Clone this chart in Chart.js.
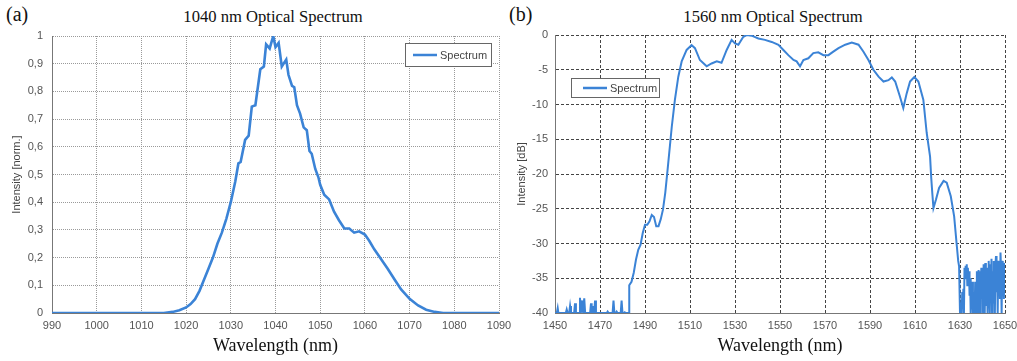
<!DOCTYPE html>
<html lang="en">
<head>
    <meta charset="UTF-8">
    <title>Optical Spectra</title>
    <style>
        body {
            margin: 0;
            background: #fff;
            width: 1017px;
            height: 361px;
            position: relative;
            overflow: hidden;
        }
        .chartBox { position: absolute; top: 0; height: 361px; }
        .tag, .ttl {
            position: absolute;
            font-family: 'Liberation Serif', 'Times New Roman', serif;
            color: #111;
            white-space: nowrap;
        }
        .tag { font-size: 20px; top: 3px; }
        .ttl { font-size: 16.6px; top: 7px; transform: translateX(-50%); }
    </style>
</head>
<body>
    <div class="tag" style="left:6px">(a)</div>
    <div class="ttl" style="left:273px">1040 nm Optical Spectrum</div>
    <div class="tag" style="left:509px">(b)</div>
    <div class="ttl" style="left:773px">1560 nm Optical Spectrum</div>

    <div class="chartBox" style="left:0;width:515px"><canvas id="chartA" width="515" height="361"></canvas></div>
    <div class="chartBox" style="left:505px;width:512px"><canvas id="chartB" width="512" height="361"></canvas></div>

    <script src="https://cdn.jsdelivr.net/npm/chart.js"></script>
    <script>
        // 1040 nm spectrum (normalised intensity)
        const wavelengthA = [990, 1000, 1010, 1015, 1017, 1018.5, 1020, 1021, 1022, 1023, 1024, 1025, 1026, 1027, 1028, 1029, 1030, 1031,
            1031.7, 1032.2, 1033.2, 1034, 1034.7, 1035.5, 1036.6, 1037.4, 1037.9, 1038.7, 1039.5, 1040, 1040.7, 1041.4, 1042.4,
            1042.9, 1043.7, 1044.2, 1044.8, 1045.5, 1046.3, 1047, 1047.6, 1048.1, 1048.9, 1049.6, 1050, 1050.9, 1052, 1053.1,
            1054.2, 1055.4, 1056.5, 1057.6, 1058.7, 1060, 1061, 1062.1, 1063.6, 1065.1, 1066.6, 1068.1, 1070, 1071.9, 1073.7,
            1075.6, 1077.5, 1080, 1090];
        const intensityA = [0, 0, 0, 0, 0.004, 0.01, 0.02, 0.032, 0.05, 0.08, 0.12, 0.16, 0.2, 0.25, 0.29, 0.34, 0.40, 0.475,
            0.54, 0.545, 0.625, 0.64, 0.745, 0.75, 0.88, 0.89, 0.97, 0.955, 1.0, 0.96, 0.975, 0.89, 0.915,
            0.86, 0.82, 0.815, 0.75, 0.72, 0.67, 0.66, 0.585, 0.575, 0.52, 0.49, 0.463, 0.427, 0.41, 0.366,
            0.335, 0.305, 0.305, 0.29, 0.295, 0.283, 0.26, 0.23, 0.195, 0.16, 0.122, 0.085, 0.051, 0.027, 0.012,
            0.004, 0, 0, 0];

        // 1560 nm spectrum (dB)
        const wavelengthB = [1450, 1450.8, 1451.2, 1451.5, 1454.8, 1455.2, 1455.6, 1456.3, 1456.7, 1457.1, 1458.5, 1458.9, 1459.3,
            1460.7, 1461.1, 1461.5, 1461.8, 1462.1, 1462.5, 1462.7, 1463, 1463.4, 1465.6, 1466, 1466.3, 1466.5, 1466.8, 1467.4,
            1467.8, 1468.2, 1473, 1473.4, 1473.8, 1475.6, 1476, 1476.4, 1477, 1477.4, 1477.8, 1479.2, 1479.6, 1480, 1480.6, 1481,
            1481.4, 1482.9, 1483, 1484, 1485, 1486, 1487, 1488, 1489, 1490, 1491, 1492, 1493, 1494, 1495, 1496, 1497, 1498,
            1499, 1500, 1501.9, 1503.3, 1504.8, 1506.3, 1508.5, 1510.7, 1512.2, 1514.4, 1517.4, 1519.6, 1521.9, 1524, 1526.3,
            1528.5, 1530, 1531.5, 1533.7, 1535.2, 1537.4, 1540.4, 1543.3, 1546.3, 1549.3, 1551.5, 1553.7, 1556, 1557.4, 1558.9,
            1560.4, 1562.6, 1564.8, 1567, 1569.3, 1571.5, 1573.7, 1576, 1579, 1581.9, 1584.9, 1587.1, 1589.3, 1591.5, 1593.8,
            1596, 1598.2, 1599.7, 1601.2, 1603.3, 1604.8, 1606.3, 1607.8, 1609.7, 1611.5, 1613.7, 1615.2, 1616.7, 1617.2,
            1617.7, 1618.2, 1619.3, 1620.7, 1622.7, 1624.1, 1625.9, 1627.4, 1628.6, 1629.2, 1629.6, 1630,
            1630.25, 1630.5, 1630.75, 1631, 1631.25, 1631.5, 1631.75, 1632, 1632.25, 1632.5, 1632.75, 1633, 1633.25, 1633.5,
            1633.75, 1634, 1634.25, 1634.5, 1634.75, 1635, 1635.25, 1635.5, 1635.75, 1636, 1636.25, 1636.5, 1636.75, 1637,
            1637.25, 1637.5, 1637.75, 1638, 1638.25, 1638.5, 1638.75, 1639, 1639.25, 1639.5, 1639.75, 1640, 1640.25, 1640.5,
            1640.75, 1641, 1641.25, 1641.5, 1641.75, 1642, 1642.25, 1642.5, 1642.75, 1643, 1643.25, 1643.5, 1643.75, 1644,
            1644.25, 1644.5, 1644.75, 1645, 1645.25, 1645.5, 1645.75, 1646, 1646.25, 1646.5, 1646.75, 1647, 1647.25, 1647.5,
            1647.75, 1648, 1648.25, 1648.5, 1648.75, 1649, 1649.25, 1649.5, 1649.75, 1650];
        const levelB = [-40, -40, -39.3, -40, -40, -39.5, -40, -40, -39, -40, -40, -38.6, -40,
            -40, -37.8, -40, -39, -38.2, -40, -39, -37.9, -40, -40, -38.6, -40, -39, -40, -40,
            -38.2, -40, -40, -39.8, -40, -40, -38.2, -40, -40, -39.8, -40, -40, -38.2, -40, -40, -39.9,
            -40, -40, -36, -35.5, -34.2, -32.3, -30.9, -30.2, -28.5, -27.3, -27.3, -26.8, -25.9, -26.2, -27.5, -27.5, -26.5, -25.1,
            -22.7, -19.5, -13.2, -9.3, -6, -3.8, -2.15, -1.45, -1.9, -3.6, -4.5, -4.1, -3.8, -4.0, -2.15,
            -0.7, -1.2, -1.4, -0.25, 0, -0.1, -0.5, -0.7, -1.0, -1.4, -2.15, -2.9, -3.6, -3.8, -4.5,
            -3.6, -3.35, -2.6, -2.5, -2.9, -2.9, -2.4, -1.9, -1.4, -1.1, -1.4, -2.4, -3.6, -5.0, -6.0,
            -6.7, -6.5, -6.1, -6.7, -8.85, -10.5, -8.4, -6.7, -6.05, -6.7, -9.3, -14.1, -17.5, -20.5,
            -22.8, -24.9, -23.7, -22, -21, -21.25, -23.2, -26.1, -30.4, -32.5, -33.3, -40,
            -40, -38.5, -40, -37, -39, -36.5, -40, -33.5, -35, -33.2, -34.5, -33, -36, -33.5,
            -35.5, -34, -37.5, -35, -40, -36.5, -39.5, -35.5, -40, -37, -38.5, -40, -35.5, -37,
            -40, -34, -38, -40, -33.8, -36.5, -34, -40, -35, -33.5, -38, -34, -40, -33,
            -36.5, -40, -32.8, -35, -39, -33.5, -40, -34.5, -32.5, -37, -40, -33, -36, -32.2,
            -40, -34, -38.5, -32.5, -35, -40, -33, -31.8, -37, -33.5, -40, -32.5, -35.5, -33,
            -38, -31.3, -34, -40, -32.5, -35, -33, -38, -32.8, -33.5];

        const xTicksA = [990, 1000, 1010, 1020, 1030, 1040, 1050, 1060, 1070, 1080, 1090];
        const yTicksA = [0, 0.1, 0.2, 0.3, 0.4, 0.5, 0.6, 0.7, 0.8, 0.9, 1];
        const xTicksB = [1450, 1470, 1490, 1510, 1530, 1550, 1570, 1590, 1610, 1630, 1650];
        const yTicksB = [-40, -35, -30, -25, -20, -15, -10, -5, 0];

        const lineBlue = '#3b83d6';
        const sans = "'Liberation Sans', Arial, sans-serif";
        const serif = "'Liberation Serif', 'Times New Roman', serif";

        // small boxed legend drawn inside the plot
        const boxLegend = {
            id: 'boxLegend',
            afterDraw(chart, args, o) {
                const ctx = chart.ctx;
                const ds = chart.data.datasets[0];
                ctx.save();
                ctx.fillStyle = '#fff';
                ctx.fillRect(o.x, o.y, o.w, o.h);
                ctx.strokeStyle = '#666';
                ctx.lineWidth = 1;
                ctx.strokeRect(o.x + 0.5, o.y + 0.5, o.w, o.h);
                ctx.strokeStyle = ds.borderColor;
                ctx.lineWidth = 2.5;
                ctx.beginPath();
                ctx.moveTo(o.x + o.lx, o.y + o.h / 2 + 0.5);
                ctx.lineTo(o.x + o.lx + o.lw, o.y + o.h / 2 + 0.5);
                ctx.stroke();
                ctx.fillStyle = '#444';
                ctx.font = '11px ' + sans;
                ctx.textBaseline = 'middle';
                ctx.fillText(ds.label, o.x + o.lx + o.lw + 3, o.y + o.h / 2 + 1);
                ctx.restore();
            }
        };

        function toPoints(xs, ys) {
            return xs.map((x, i) => ({ x: x, y: ys[i] }));
        }

        function makeChart(id, cfg) {
            return new Chart(document.getElementById(id), {
                type: 'line',
                data: {
                    datasets: [{
                        label: 'Spectrum',
                        data: toPoints(cfg.xs, cfg.ys),
                        borderColor: lineBlue,
                        borderWidth: cfg.lineWidth,
                        pointRadius: 0,
                        tension: 0,
                        fill: false
                    }]
                },
                options: {
                    responsive: false,
                    animation: false,
                    layout: { autoPadding: false, padding: cfg.padding },
                    plugins: {
                        legend: { display: false },
                        tooltip: { enabled: false },
                        boxLegend: cfg.legend
                    },
                    scales: {
                        x: {
                            type: 'linear',
                            min: cfg.xMin, max: cfg.xMax,
                            afterBuildTicks: s => { s.ticks = cfg.xTicks.map(v => ({ value: v })); },
                            afterFit: s => { s.height = 48; s.paddingLeft = 0; s.paddingRight = 0; },
                            border: { display: true, color: '#777', width: 1, dash: cfg.dash },
                            grid: { color: cfg.gridColor, drawTicks: false },
                            ticks: { color: '#555', font: { family: sans, size: 11 }, padding: 6, maxRotation: 0, autoSkip: false, callback: v => String(v) },
                            title: { display: true, text: 'Wavelength (nm)', color: '#111', font: { family: serif, size: 18 }, padding: { top: 4 } }
                        },
                        y: {
                            min: cfg.yMin, max: cfg.yMax,
                            afterBuildTicks: s => { s.ticks = cfg.yTicks.map(v => ({ value: v })); },
                            afterFit: s => { s.width = cfg.yWidth; s.paddingTop = 0; s.paddingBottom = 0; },
                            border: { display: true, color: '#777', width: 1, dash: cfg.dash },
                            grid: { color: cfg.gridColor, drawTicks: false },
                            ticks: { color: '#555', font: { family: sans, size: 11 }, padding: cfg.yPad, autoSkip: false, callback: cfg.fmt },
                            title: { display: true, text: cfg.yTitle, color: '#444', font: { family: sans, size: 11 }, padding: { top: 10, bottom: 0 } }
                        }
                    }
                },
                plugins: [boxLegend]
            });
        }

        makeChart('chartA', {
            xs: wavelengthA, ys: intensityA, lineWidth: 2.6,
            xMin: 990, xMax: 1090, xTicks: xTicksA,
            yMin: 0, yMax: 1, yTicks: yTicksA,
            fmt: v => String(Math.round(v * 10) / 10).replace('.', ','),
            yTitle: 'Intensity [norm.]', yWidth: 52, yPad: 9,
            padding: { top: 36, right: 16, bottom: 0, left: 0 },
            gridColor: '#9a9a9a', dash: [1, 1],
            legend: { x: 405, y: 43, w: 86, h: 23, lx: 8, lw: 24 }
        });

        makeChart('chartB', {
            xs: wavelengthB, ys: levelB, lineWidth: 2,
            xMin: 1450, xMax: 1650, xTicks: xTicksB,
            yMin: -40, yMax: 0, yTicks: yTicksB,
            fmt: v => String(v),
            yTitle: 'Intensity [dB]', yWidth: 50, yPad: 7,
            padding: { top: 35, right: 12, bottom: 0, left: 0 },
            gridColor: '#444', dash: [3, 2],
            legend: { x: 66, y: 78, w: 88, h: 19, lx: 12, lw: 24 }
        });
    </script>
</body>
</html>
